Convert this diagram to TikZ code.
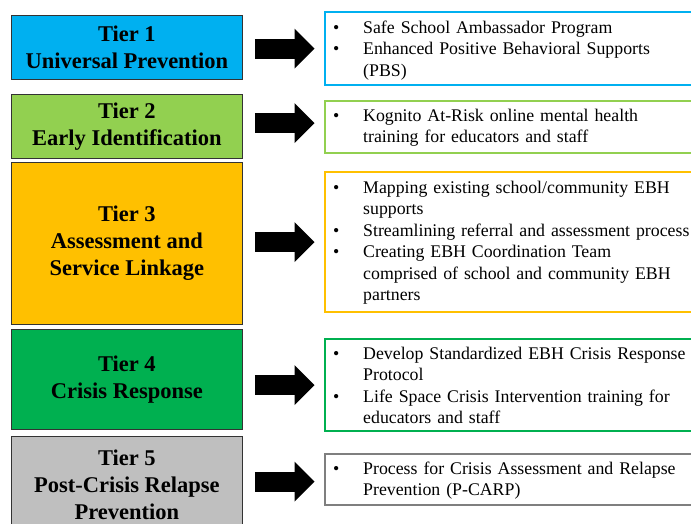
\documentclass[tikz,border=0pt]{standalone}
\usepackage{fontspec}
\setmainfont{Liberation Serif}
\usetikzlibrary{arrows.meta}

\definecolor{tierblue}{HTML}{00B0F0}
\definecolor{tierlime}{HTML}{92D050}
\definecolor{tiergold}{HTML}{FFC000}
\definecolor{tiergreen}{HTML}{00B050}
\definecolor{tiergray}{HTML}{BFBFBF}
\definecolor{tierline}{HTML}{7F7F7F}

\newcommand{\itm}{\makebox[30pt][l]{\textbullet}}
\newcommand{\cnt}{\hspace*{30pt}}

\begin{document}
\begin{tikzpicture}[x=1pt,y=-1pt,
  tierbox/.style={draw=black!80,line width=0.8pt,inner sep=0pt,anchor=north west,
    minimum width=231pt,align=center,font=\bfseries\fontsize{22.5}{27}\selectfont},
  frame/.style={draw=#1,line width=2pt,fill=white,inner sep=0pt,anchor=north west,
    minimum width=380pt},
  desc/.style={inner sep=0pt,anchor=base west,text width=380pt,align=left,
    font=\fontsize{17.8}{21.5}\selectfont},
  bigarrow/.style={line width=20pt,-{Triangle[length=20pt,width=40pt,line width=0pt]}}]
\useasboundingbox (0,0) rectangle (691,523);
\clip (0,0) rectangle (691,523);

% tiers
\node [tierbox,fill=tierblue,minimum height=64pt]  (t1) at (11,15)  {Tier 1\\ Universal Prevention};
\node [tierbox,fill=tierlime,minimum height=64pt]  (t2) at (11,94)  {Tier 2\\ Early Identification};
\node [tierbox,fill=tiergold,minimum height=162pt] (t3) at (11,162) {Tier 3\\ Assessment and\\ Service Linkage};
\node [tierbox,fill=tiergreen,minimum height=100pt] (t4) at (11,329) {Tier 4\\ Crisis Response};
\node [tierbox,fill=tiergray,minimum height=97pt]  (t5) at (11,436) {Tier 5\\ Post-Crisis Relapse\\ Prevention};

% activities
\node [frame=tierblue,minimum height=73pt]   (d1) at (323.5,11)  {};
\node [frame=tierlime,minimum height=52pt]   (d2) at (323.5,100) {};
\node [frame=tiergold,minimum height=140pt]  (d3) at (323.5,171) {};
\node [frame=tiergreen,minimum height=92pt]  (d4) at (323.5,338) {};
\node [frame=tierline,minimum height=51pt]   (d5) at (323.5,453) {};

\node [desc] (l1) at (333,33) {\itm Safe School Ambassador Program\\
  \itm Enhanced Positive Behavioral Supports\\ \cnt (PBS)};
\node [desc] (l2) at (333,121) {\itm Kognito At-Risk online mental health\\
  \cnt training for educators and staff};
\node [desc] (l3) at (333,193) {\itm Mapping existing school/community EBH\\
  \cnt supports\\ \itm Streamlining referral and assessment process\\
  \itm Creating EBH Coordination Team\\ \cnt comprised of school and community EBH\\ \cnt partners};
\node [desc] (l4) at (333,359) {\itm Develop Standardized EBH Crisis Response\\
  \cnt Protocol\\ \itm Life Space Crisis Intervention training for\\ \cnt educators and staff};
\node [desc] (l5) at (333,474) {\itm Process for Crisis Assessment and Relapse\\
  \cnt Prevention (P-CARP)};

% arrows
\draw [bigarrow] ([xshift=12pt]t1.east |- d1.west) -- ([xshift=-9pt]d1.west);
\draw [bigarrow] ([xshift=12pt,yshift=4pt]t2.east |- d2.west) -- ([xshift=-9pt,yshift=4pt]d2.west);
\draw [bigarrow] ([xshift=12pt]t3.east |- d3.west) -- ([xshift=-9pt]d3.west);
\draw [bigarrow] ([xshift=12pt]t4.east |- d4.west) -- ([xshift=-9pt]d4.west);
\draw [bigarrow] ([xshift=12pt,yshift=-2pt]t5.east |- d5.west) -- ([xshift=-9pt,yshift=-2pt]d5.west);
\end{tikzpicture}
\end{document}
